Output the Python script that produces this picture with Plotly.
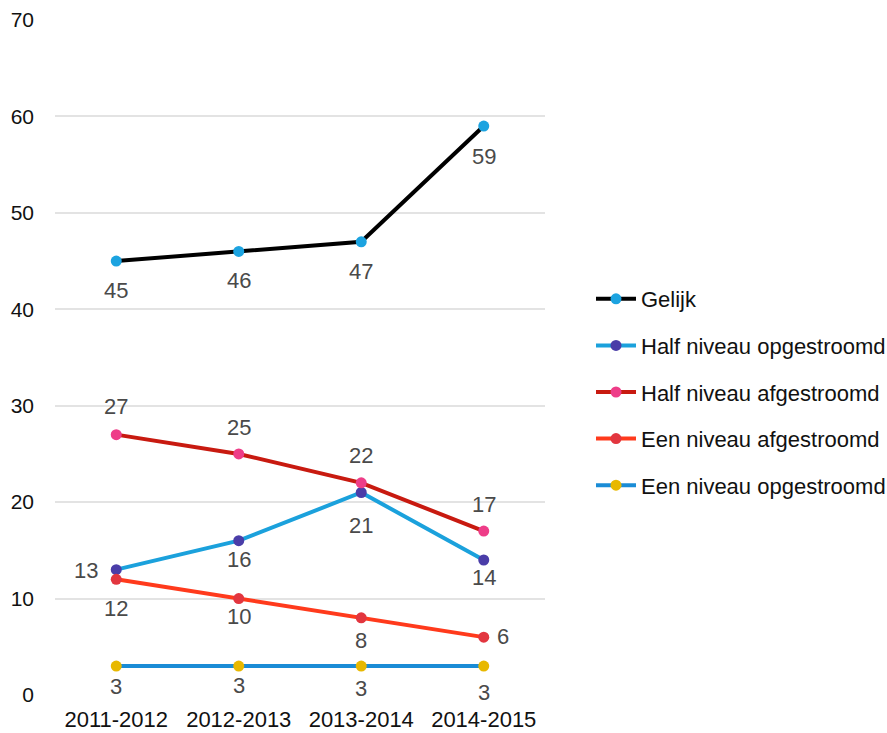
import plotly.graph_objects as go

years = ["2011-2012", "2012-2013", "2013-2014", "2014-2015"]
series_names = ["Gelijk", "Half niveau opgestroomd", "Half niveau afgestroomd",
                "Een niveau afgestroomd", "Een niveau opgestroomd"]
gelijk = [45, 46, 47, 59]
half_op = [13, 16, 21, 14]
half_af = [27, 25, 22, 17]
een_af = [12, 10, 8, 6]
een_op = [3, 3, 3, 3]
y_ticks = [0, 10, 20, 30, 40, 50, 60, 70]

values = [gelijk, half_op, half_af, een_af, een_op]
line_colors = ["#000000", "#1ba1dc", "#c81a10", "#ff3a1c", "#1a8cd6"]
marker_colors = ["#1ca3e0", "#4a3da8", "#ee3d88", "#e2363f", "#e8b800"]
# label offsets in pixels (dx right, dy down) per series / point
label_dx = [
    [0, 0, 0, 0],
    [-30, 0, 0, 0],
    [0, 0, 0, 0],
    [0, 0, 0, 19],
    [0, 0, 0, 0],
]
label_dy = [
    [29, 29, 30, 30],
    [1, 19, 33, 17],
    [-28, -26, -27, -27],
    [29, 18, 23, -1],
    [20, 19, 22, 26],
]

fig = go.Figure()
for i, (name, vals) in enumerate(zip(series_names, values)):
    fig.add_trace(go.Scatter(
        x=years, y=vals, name=name, mode="lines+markers",
        line=dict(color=line_colors[i], width=4),
        marker=dict(color=marker_colors[i], size=11),
        legendgroup=f"g{i}",
    ))
    for j, (yr, v) in enumerate(zip(years, vals)):
        fig.add_annotation(
            x=yr, y=v, text=str(v), showarrow=False,
            xshift=label_dx[i][j], yshift=-label_dy[i][j],
            font=dict(size=22, color="#4a4a4a"),
            xanchor="center", yanchor="middle",
        )

fig.update_layout(
    width=887, height=733,
    margin=dict(l=55, r=342, t=20, b=38),
    plot_bgcolor="white", paper_bgcolor="white",
    font=dict(family="Liberation Sans, Arial, sans-serif", size=22, color="#222222"),
    xaxis=dict(range=[-0.5, 3.5], showgrid=False, showline=False, ticks="",
               automargin=False, ticklabelstandoff=9,
               tickfont=dict(size=22, color="#111111")),
    yaxis=dict(range=[0, 70], tickvals=y_ticks, showgrid=True, gridcolor="#e3e3e3",
               gridwidth=1.5, zeroline=False, showline=False, ticks="",
               automargin=False, ticklabelstandoff=20,
               tickfont=dict(size=21, color="#111111")),
    legend=dict(xref="container", yref="container", x=591/887, y=1 - 278/733,
                xanchor="left", yanchor="top", tracegroupgap=15,
                font=dict(size=22, color="#111111"), itemwidth=40),
    showlegend=True,
)

fig.write_html("out.html")
